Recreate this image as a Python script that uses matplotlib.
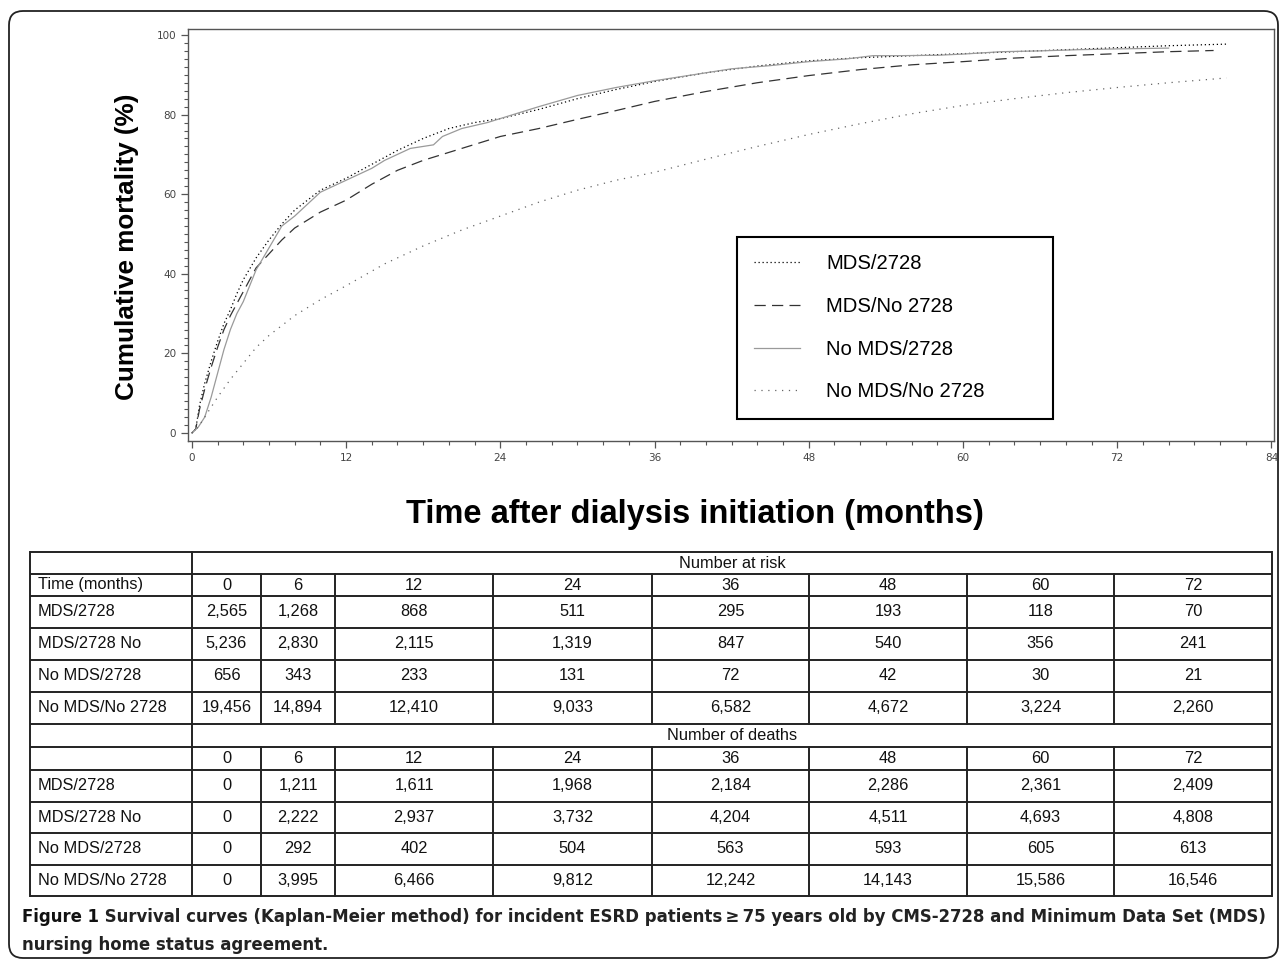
import numpy as np
import matplotlib
matplotlib.use('Agg')
import matplotlib.pyplot as plt
from matplotlib.patches import FancyBboxPatch

# ---- curve data ----
t_a = [0, 0.3, 0.6, 1, 1.5, 2, 2.5, 3, 3.5, 4, 5, 6, 7, 8, 9, 10, 12, 14, 16, 18, 20, 22, 24, 27, 30, 33, 36, 40, 44, 48, 52, 56, 60, 64, 68, 72, 76, 80.5]
y_a = [0, 1, 7, 12.5, 18, 23, 27.5, 31, 35, 38.5, 44, 48.5, 52.5, 56, 58.5, 61, 64, 67.5, 71, 74, 76.5, 78, 79, 81.3, 84, 86.3, 88.3, 90.5, 92.2, 93.5, 94.3, 94.8, 95.3, 95.8, 96.3, 96.8, 97.3, 97.7]

t_b = [0, 0.3, 0.6, 1, 1.5, 2, 2.5, 3, 3.5, 4, 5, 6, 7, 8, 9, 10, 12, 14, 16, 18, 20, 22, 24, 27, 30, 33, 36, 40, 44, 48, 52, 56, 60, 64, 68, 72, 76, 79.5]
y_b = [0, 1, 6, 11, 16.5, 21.5, 26, 29.5, 32.5, 35.5, 41.5, 45, 48.5, 51.5, 53.5, 55.5, 58.5, 62.5, 66, 68.5, 70.5, 72.5, 74.5, 76.5, 78.8, 81, 83.3, 85.8, 88, 89.8, 91.3, 92.5, 93.3, 94.2, 94.8, 95.3, 95.8, 96.1]

t_c = [0, 0.5, 1, 1.5, 2, 2.5, 3, 3.5, 4, 4.5, 5, 6, 7, 8, 9, 10, 11, 12, 13, 14, 15, 16, 17, 18, 18.8, 19.5, 21, 23, 25, 27, 30, 33, 36, 39, 42, 45, 48, 51, 53, 55, 58, 60, 63, 66, 69, 72, 76]
y_c = [0, 1.5, 4, 9, 15, 21, 26, 30, 33, 37, 41, 46.5, 52, 54.5, 57.5, 60.5, 62, 63.5, 65, 66.5, 68.5, 70, 71.5, 72, 72.4, 74.5, 76.5, 78, 80, 82, 84.8, 86.8, 88.5, 90, 91.5, 92.3, 93.3, 94, 94.8, 94.8, 94.9, 95.2, 95.8, 96, 96.3, 96.5, 96.7]

t_d = [0, 0.5, 1, 2, 3, 4, 5, 6, 8, 10, 12, 15, 18, 21, 24, 27, 30, 33, 36, 40, 44, 48, 52, 56, 60, 64, 68, 72, 76, 80.5]
y_d = [0, 1.5, 4, 9, 13.5, 17.5, 21.5, 24.5, 29.5, 33.5, 37, 42.5, 47, 51, 54.5, 58, 61, 63.5, 65.5, 68.8, 72, 75, 77.7, 80.2, 82.3, 84, 85.5, 86.8, 88, 89.2]

legend_labels = ['MDS/2728', 'MDS/No 2728', 'No MDS/2728', 'No MDS/No 2728']

# ---- table data ----
groups = ['MDS/2728', 'MDS/2728 No', 'No MDS/2728', 'No MDS/No 2728']
months = [0, 6, 12, 24, 36, 48, 60, 72]
at_risk = [[2565, 1268, 868, 511, 295, 193, 118, 70],
           [5236, 2830, 2115, 1319, 847, 540, 356, 241],
           [656, 343, 233, 131, 72, 42, 30, 21],
           [19456, 14894, 12410, 9033, 6582, 4672, 3224, 2260]]
deaths = [[0, 1211, 1611, 1968, 2184, 2286, 2361, 2409],
          [0, 2222, 2937, 3732, 4204, 4511, 4693, 4808],
          [0, 292, 402, 504, 563, 593, 605, 613],
          [0, 3995, 6466, 9812, 12242, 14143, 15586, 16546]]

caption_bold = 'Figure 1'
caption_rest = (' Survival curves (Kaplan-Meier method) for incident ESRD patients\u2009\u2265\u200975 years old by CMS-2728 and Minimum Data Set (MDS)')
caption_line2 = 'nursing home status agreement.'

W, H = 1281, 965
fig = plt.figure(figsize=(W / 100, H / 100), dpi=100)

# background axes in pixel units for border + table
bg = fig.add_axes([0, 0, 1, 1])
bg.set_xlim(0, W)
bg.set_ylim(H, 0)
bg.axis('off')
bg.add_patch(FancyBboxPatch((9, 11), 1269, 947, boxstyle='round,pad=0,rounding_size=14',
                            fill=False, edgecolor='#222222', linewidth=1.3))

# ---- survival plot ----
ax = fig.add_axes([188 / W, 1 - 441 / H, (1274 - 188) / W, (441 - 29) / H])
ax.plot(t_a, y_a, color='black', linestyle=(0, (1, 2.2)), linewidth=0.9, label=legend_labels[0])
ax.plot(t_b, y_b, color='#333333', linestyle=(0, (9, 5)), linewidth=0.9, label=legend_labels[1])
ax.plot(t_c, y_c, color='#9a9a9a', linestyle='-', linewidth=0.9, label=legend_labels[2])
ax.plot(t_d, y_d, color='#666666', linestyle=(0, (1, 4.5)), linewidth=0.9, label=legend_labels[3])

ax.set_xlim(-0.3, 84.2)
ax.set_ylim(-2.0, 101.5)
ax.set_xticks(np.arange(0, 85, 12))
ax.set_xticks(np.arange(0, 85, 2), minor=True)
ax.set_yticks(np.arange(0, 101, 20))
ax.set_yticks(np.arange(0, 101, 2), minor=True)
for s in ax.spines.values():
    s.set_color('#555555')
    s.set_linewidth(1.0)
ax.tick_params(which='both', direction='out', color='#555555', labelcolor='#444444', labelsize=7.5)
ax.tick_params(which='major', length=5, width=0.9)
ax.tick_params(which='minor', length=3, width=0.8)

fig.text(127 / W, 1 - 247 / H, 'Cumulative mortality (%)', rotation=90, ha='center', va='center',
         fontsize=18.8, fontweight='bold', family='Liberation Sans')
fig.text(695 / W, 1 - 515 / H, 'Time after dialysis initiation (months)', ha='center', va='center',
         fontsize=23.5, fontweight='bold', family='Liberation Sans')

handles, labels = ax.get_legend_handles_labels()
leg = fig.legend(handles, labels, loc='upper left',
                 bbox_to_anchor=(737 / W, 1 - 417 / H, 316 / W, 180 / H), mode='expand',
                 frameon=True, fancybox=False, edgecolor='black', framealpha=1,
                 prop={'family': 'Liberation Sans', 'size': 14.6},
                 handlelength=2.25, handletextpad=1.3, labelspacing=1.17, borderpad=0.85,
                 borderaxespad=0)
leg.get_frame().set_linewidth(1.5)

# ---- table ----
col_x = [30, 192, 261, 335, 493, 652, 809, 967, 1114, 1272]
rows_y = [552, 574, 596, 628, 660, 692, 724, 747, 770, 801.5, 833, 864.5, 896]
lc = '#222222'
lw = 1.4
for y in rows_y:
    bg.plot([col_x[0], col_x[-1]], [y, y], color=lc, linewidth=lw, solid_capstyle='butt')
bg.plot([col_x[0], col_x[0]], [rows_y[0], rows_y[-1]], color=lc, linewidth=lw)
bg.plot([col_x[1], col_x[1]], [rows_y[0], rows_y[-1]], color=lc, linewidth=lw)
bg.plot([col_x[-1], col_x[-1]], [rows_y[0], rows_y[-1]], color=lc, linewidth=lw)
for x in col_x[2:-1]:
    bg.plot([x, x], [rows_y[1], rows_y[6]], color=lc, linewidth=lw)
    bg.plot([x, x], [rows_y[7], rows_y[-1]], color=lc, linewidth=lw)

tfont = {'family': 'Liberation Sans', 'size': 11.8, 'color': '#111111'}
centers = [(col_x[i] + col_x[i + 1]) / 2 for i in range(1, len(col_x) - 1)]


def mid(i):
    return (rows_y[i] + rows_y[i + 1]) / 2


bg.text((col_x[1] + col_x[-1]) / 2, mid(0), 'Number at risk', ha='center', va='center', **tfont)
bg.text(38, mid(1), 'Time (months)', ha='left', va='center', **tfont)
for cx, m in zip(centers, months):
    bg.text(cx, mid(1), str(m), ha='center', va='center', **tfont)
for r, (g, vals) in enumerate(zip(groups, at_risk)):
    bg.text(38, mid(2 + r), g, ha='left', va='center', **tfont)
    for cx, v in zip(centers, vals):
        bg.text(cx, mid(2 + r), f'{v:,}', ha='center', va='center', **tfont)

bg.text((col_x[1] + col_x[-1]) / 2, mid(6), 'Number of deaths', ha='center', va='center', **tfont)
for cx, m in zip(centers, months):
    bg.text(cx, mid(7), str(m), ha='center', va='center', **tfont)
for r, (g, vals) in enumerate(zip(groups, deaths)):
    bg.text(38, mid(8 + r), g, ha='left', va='center', **tfont)
    for cx, v in zip(centers, vals):
        bg.text(cx, mid(8 + r), f'{v:,}', ha='center', va='center', **tfont)

# ---- caption (font size fitted to the line width of the original) ----
capfont = dict(family='DejaVu Sans', stretch='condensed', fontweight='bold')
fs = 13.0
t1 = bg.text(22, 917, caption_bold, ha='left', va='center', fontsize=fs, color='#111111', **capfont)
t2 = bg.text(22, 917, caption_rest, ha='left', va='center', fontsize=fs, color='#222222', **capfont)
fig.canvas.draw()
r = fig.canvas.get_renderer()
total = t1.get_window_extent(r).width + t2.get_window_extent(r).width
fs = fs * (1240 / total)
t1.set_fontsize(fs)
t2.set_fontsize(fs)
fig.canvas.draw()
t2.set_x(22 + t1.get_window_extent(r).width)
bg.text(22, 945, caption_line2, ha='left', va='center', fontsize=fs, color='#222222', **capfont)

fig.savefig('out.png', dpi=100)
